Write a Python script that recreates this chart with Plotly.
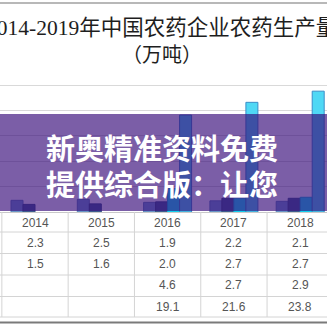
import plotly.graph_objects as go

# ---- data ----
years = ["2014", "2015", "2016", "2017", "2018"]
series_names = ["系列1", "系列2", "系列3", "系列4"]
s1 = [2.3, 2.5, 1.9, 2.2, 2.1]
s2 = [1.5, 1.6, 2.0, 2.7, 2.7]
s3 = [None, None, 4.6, 2.7, 2.9]
s4 = [None, None, 19.1, 21.6, 23.8]
series = [s1, s2, s3, s4]

title_text = "2014-2019年中国农药企业农药生产量"
subtitle_text = "（万吨）"
banner_lines = ["新奥精准资料免费", "提供综合版：让您"]

bar_colors = ["#76a4d3", "#456599", "#14e6ff", "#4fd8f5"]
bar_lines = ["#5d86b8", "#3a5685", "#10b8dd", "#3a8dc8"]

W = H = 327


def py(p):
    """pixel row -> paper y"""
    return 1 - p / H


xs = list(range(len(years)))
fig = go.Figure()
for name, vals, c, lc in zip(series_names, series, bar_colors, bar_lines):
    fig.add_trace(go.Bar(x=xs, y=vals, name=name, marker=dict(color=c, line=dict(color=lc, width=1))))

spacing = 66.3
x0 = -35 / spacing
x1 = x0 + W / spacing

fig.update_layout(
    width=W, height=H,
    margin=dict(l=0, r=0, t=0, b=0),
    paper_bgcolor="white", plot_bgcolor="white",
    showlegend=False,
    barmode="group", bargap=0.276, bargroupgap=0,
    xaxis=dict(range=[x0, x1], domain=[0, 1], showticklabels=False, showgrid=False,
               zeroline=False, showline=True, linecolor="#c8c8c8", linewidth=1, ticks=""),
    yaxis=dict(range=[0, 26], domain=[py(212), py(80)], showticklabels=False,
               showgrid=True, gridcolor="#d9d9d9", gridwidth=1, dtick=5,
               zeroline=False, showline=False, ticks=""),
)

shapes = []
# top border
shapes.append(dict(type="line", xref="paper", yref="paper", x0=0, x1=1, y0=py(3), y1=py(3),
                   line=dict(color="#a0a0a0", width=1.5)))
# table horizontal lines
for p in [232, 253.5, 275, 296.5, 317]:
    shapes.append(dict(type="line", xref="paper", yref="paper", x0=0, x1=1, y0=py(p), y1=py(p),
                       line=dict(color="#d4d4d4", width=1)))
# table vertical lines
for i in range(len(years) + 1):
    shapes.append(dict(type="line", xref="x", yref="paper", x0=i - 0.5, x1=i - 0.5,
                       y0=py(212), y1=py(317), line=dict(color="#d4d4d4", width=1)))
# bottom dark line
shapes.append(dict(type="line", xref="paper", yref="paper", x0=0, x1=1, y0=py(322.5), y1=py(322.5),
                   line=dict(color="#7a7a7a", width=2)))
# banner overlay
shapes.append(dict(type="rect", xref="paper", yref="paper", x0=0, x1=1, y0=py(211), y1=py(114),
                   fillcolor="rgba(52,7,120,0.65)", line=dict(width=0), layer="above"))
fig.update_layout(shapes=shapes)

ann = []
ann.append(dict(text=title_text, xref="paper", yref="paper", x=161 / W, y=py(27.5),
                showarrow=False, xanchor="center", yanchor="middle",
                font=dict(family="Liberation Serif, Noto Sans CJK SC", size=21.5, color="#1e1e1e")))
ann.append(dict(text=subtitle_text, xref="paper", yref="paper", x=162 / W, y=py(55),
                showarrow=False, xanchor="center", yanchor="middle",
                font=dict(family="Liberation Serif, Noto Sans CJK SC", size=20, color="#1e1e1e")))

# table text
tfont = dict(family="Liberation Sans, Arial, sans-serif", size=12, color="#555555")
for i, yr in enumerate(years):
    ann.append(dict(text=yr, xref="x", yref="paper", x=i, y=py(222.5), showarrow=False,
                    xanchor="center", yanchor="middle", font=tfont))
row_centers = [242.8, 263.5, 285, 306.5]
for vals, rc in zip(series, row_centers):
    for i, v in enumerate(vals):
        if v is None:
            continue
        ann.append(dict(text=f"{v:.1f}", xref="x", yref="paper", x=i, y=py(rc), showarrow=False,
                        xanchor="center", yanchor="middle", font=tfont))

# banner text
for line, yc in zip(banner_lines, [146.7, 183.3]):
    ann.append(dict(text=f"<b>{line}</b>", xref="paper", yref="paper", x=161.5 / W, y=py(yc),
                    showarrow=False, xanchor="center", yanchor="middle",
                    font=dict(family="Noto Sans CJK SC", size=29, color="white")))
fig.update_layout(annotations=ann)

fig.write_html("out.html")
